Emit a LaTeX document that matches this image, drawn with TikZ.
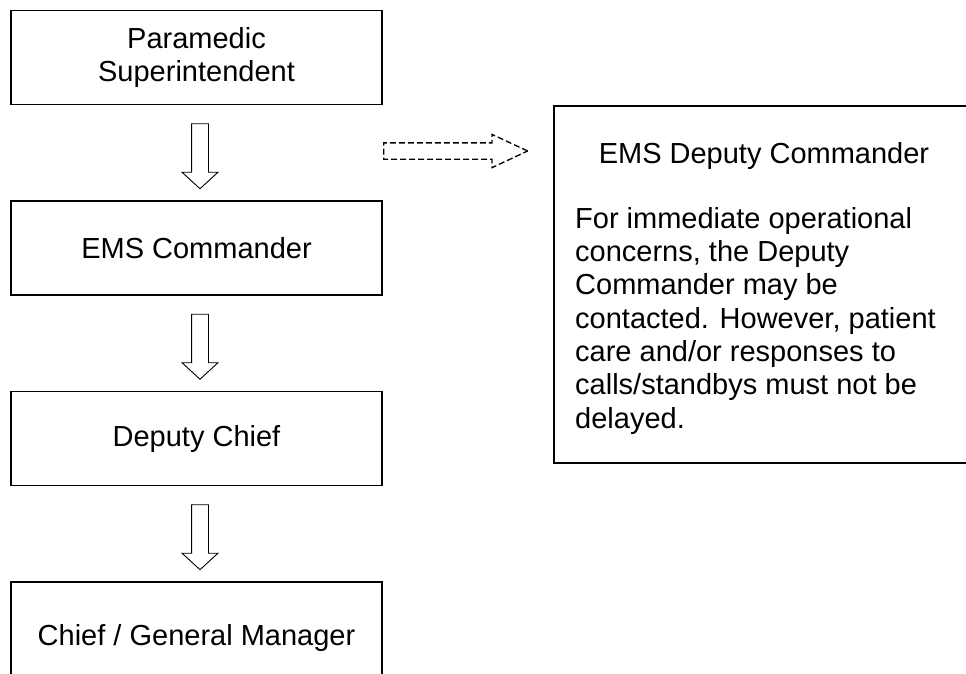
\documentclass[tikz,border=0pt]{standalone}
\usepackage{fontspec}
\setmainfont{Liberation Sans}
\usetikzlibrary{shapes,positioning,arrows,calc}

\begin{document}
\begin{tikzpicture}
		[x=1pt,y=-1pt,
			node distance=95pt,
			box/.style={draw,line width=1.5pt,minimum width=371pt,minimum height=94pt,
					inner sep=0pt,align=center,font=\fontsize{29}{33}\selectfont},
			downarrow/.style={draw,single arrow,shape border rotate=270,line width=0.9pt,
					minimum height=65pt,single arrow head extend=9.5pt,anchor=tail,
					single arrow tip angle=95,inner xsep=8pt,inner ysep=0pt},
			sidearrow/.style={draw,single arrow,line width=1.3pt,dash pattern=on 6pt off 3pt,
					minimum height=144pt,single arrow head extend=8.5pt,anchor=tail,
					single arrow tip angle=50,inner xsep=0pt,inner ysep=7.5pt},
			note/.style={inner sep=0pt,font=\fontsize{29}{33.3}\selectfont}]
		\useasboundingbox (0,0) rectangle (966,673);
		\clip (0,0) rectangle (966,673);
		% chain of command
		\node[box] (super) at (196.5,57.5) {Paramedic\\Superintendent};
		\node[box,below=of super] (cmdr) {EMS Commander};
		\node[box,below=of cmdr] (dchief) {Deputy Chief};
		\node[box,below=of dchief,minimum height=112pt] (chief) {Chief / General Manager};
		\node[downarrow] (arr1) at ($(super.south)+(3.5,18)$) {};
		\node[downarrow] (arr2) at ($(cmdr.south)+(3.5,18)$) {};
		\node[downarrow] (arr3) at ($(dchief.south)+(3.5,18)$) {};
		% deputy commander
		\node[sidearrow] (side) at (383,151) {};
		\node[box,anchor=north west,minimum width=422pt,minimum height=357pt] (deputy) at (553,105) {};
		\node[note,anchor=base] (deptitle) at (764,163) {EMS Deputy Commander};
		\node[note,anchor=north west,align=left] (depnote) at (575,207)
			{For immediate operational\\concerns, the Deputy\\Commander may be\\contacted. However, patient\\care and/or responses to\\calls/standbys must not be\\delayed.};
	\end{tikzpicture}
\end{document}
